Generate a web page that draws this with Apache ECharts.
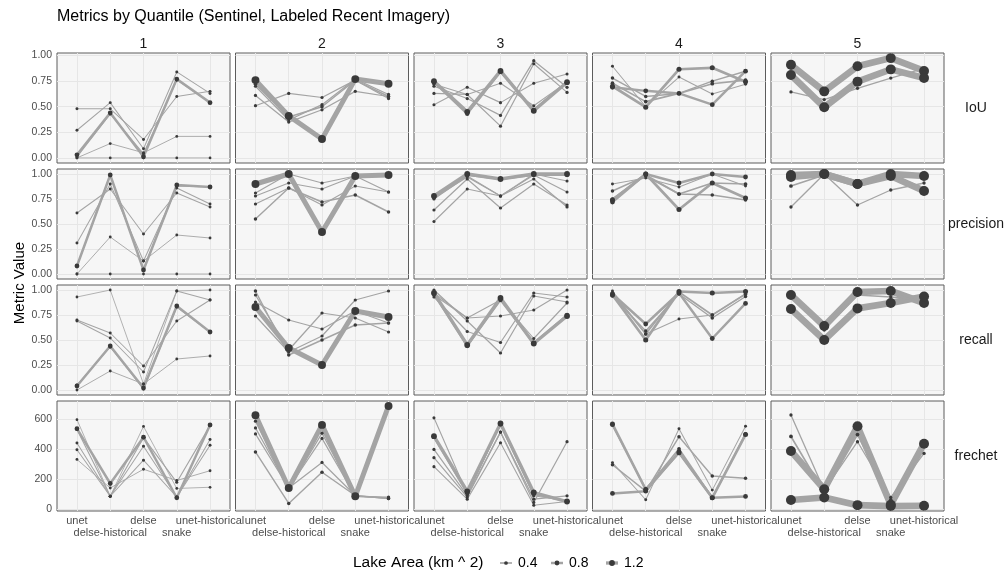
<!DOCTYPE html>
<html><head><meta charset="utf-8">
<script src="https://cdn.jsdelivr.net/npm/echarts@6/dist/echarts.min.js"></script>
<style>html,body{margin:0;padding:0;background:#fff}#c{width:1008px;height:576px}</style>
</head><body><div id="c"></div>
<script>
// ---------- categories / ticks ----------
const methods = ['unet', 'delse-historical', 'delse', 'snake', 'unet-historical'];
const quantiles = ['1', '2', '3', '4', '5'];
const metrics = ['IoU', 'precision', 'recall', 'frechet'];
const ratioTicks = [0, 0.25, 0.5, 0.75, 1];
const frechetTicks = [0, 200, 400, 600];
const legendBreaks = [0.4, 0.8, 1.2];

// ---------- quantile 1 ----------
const q1_area = [0.02, 0.05, 0.1, 0.1, 0.8, 0.15];
const q1_iou = [[0,0,0,0,0],[0.00,0.14,0.05,0.21,0.21],[0.48,0.48,0.18,0.60,0.65],[0.27,0.54,0.09,0.84,0.63],[0.03,0.44,0.01,0.77,0.54],[0.01,0.43,0.04,0.76,0.54]];
const q1_precision = [[0,0,0,0,0],[0,0.37,0.13,0.39,0.36],[0.61,0.85,0.40,0.81,0.67],[0.31,0.90,0.13,0.86,0.70],[0.08,0.99,0.04,0.89,0.87],[0.08,0.99,0.05,0.88,0.87]];
const q1_recall = [[0.93,1.00,0.06,0.99,1.00],[0.00,0.19,0.06,0.31,0.34],[0.70,0.57,0.24,0.69,0.90],[0.69,0.52,0.18,0.99,0.90],[0.04,0.44,0.02,0.84,0.58],[0.05,0.43,0.01,0.83,0.58]];
const q1_frechet = [[595,85,550,137,145],[330,140,265,190,255],[440,85,418,80,463],[395,85,325,80,425],[535,170,478,75,560],[530,85,475,178,555]];

// ---------- quantile 2 ----------
const q2_area = [2.0, 0.2, 0.2, 0.2, 0.3];
const q2_iou = [[0.76,0.41,0.185,0.77,0.725],[0.70,0.37,0.52,0.77,0.62],[0.61,0.35,0.47,0.65,0.60],[0.51,0.63,0.59,0.76,0.58],[0.72,0.40,0.50,0.76,0.60]];
const q2_precision = [[0.90,1.00,0.42,0.98,0.99],[0.81,1.00,0.91,0.98,0.82],[0.78,0.91,0.85,0.98,0.98],[0.70,0.86,0.69,0.88,0.82],[0.55,0.86,0.72,0.79,0.62]];
const q2_recall = [[0.83,0.42,0.25,0.79,0.73],[0.88,0.70,0.61,0.79,0.67],[0.95,0.40,0.77,0.72,0.58],[0.74,0.38,0.54,0.90,0.99],[0.99,0.35,0.50,0.65,0.67]];
const q2_frechet = [[625,140,560,85,686],[585,135,505,85,80],[540,140,470,85,75],[500,140,310,90,70],[380,37,245,90,70]];

// ---------- quantile 3 ----------
const q3_area = [1.2, 0.6, 0.2, 0.2, 0.15, 0.15];
const q3_iou = [[0.75,0.45,0.85,0.46,0.74],[0.74,0.43,0.84,0.47,0.74],[0.70,0.58,0.415,0.95,0.69],[0.63,0.62,0.31,0.92,0.64],[0.52,0.69,0.54,0.73,0.82],[0.72,0.62,0.73,0.51,0.74]];
const q3_precision = [[0.78,1.0,0.95,1.0,1.0],[0.77,0.99,0.95,0.99,0.99],[0.75,0.98,0.78,0.95,0.67],[0.64,0.95,0.66,0.90,0.69],[0.525,0.85,0.78,0.99,0.82],[0.76,0.97,0.78,1.0,0.93]];
const q3_recall = [[0.97,0.45,0.92,0.465,0.74],[0.96,0.44,0.90,0.47,0.75],[0.93,0.585,0.475,0.97,0.93],[1.0,0.69,0.37,0.94,0.88],[0.97,0.72,0.74,0.80,1.0],[0.95,0.72,0.90,0.515,0.87]];
const q3_frechet = [[485,118,570,110,50],[480,105,565,100,52],[397,90,512,66,88],[342,80,512,44,448],[282,66,441,25,50],[607,100,560,88,55]];

// ---------- quantile 4 ----------
const q4_area = [0.9, 0.8, 0.1, 0.3, 0.4];
const q4_iou = [[0.70,0.495,0.866,0.88,0.745],[0.69,0.655,0.63,0.52,0.847],[0.895,0.50,0.79,0.625,0.72],[0.78,0.60,0.63,0.75,0.847],[0.73,0.55,0.63,0.725,0.76]];
const q4_precision = [[0.74,1.0,0.645,0.91,0.76],[0.72,1.0,0.91,1.0,0.97],[0.90,0.96,0.87,1.0,0.88],[0.83,0.98,0.80,0.79,0.74],[0.75,0.99,0.80,0.91,0.90]];
const q4_recall = [[0.95,0.50,0.985,0.97,0.985],[0.96,0.66,0.97,0.515,0.866],[0.99,0.56,0.71,0.75,0.96],[0.94,0.59,0.96,0.72,0.935],[0.97,0.56,0.98,0.75,0.96]];
const q4_frechet = [[565,130,375,75,496],[104,119,380,75,84],[309,62,534,126,551],[295,119,481,220,205],[560,132,401,75,500]];

// ---------- quantile 5 ----------
const q5_area = [2.8, 2.8, 0.25, 0.4];
const q5_iou = [[0.91,0.65,0.895,0.975,0.85],[0.81,0.495,0.745,0.865,0.78],[0.645,0.57,0.68,0.78,0.875],[0.88,0.66,0.88,0.96,0.84]];
const q5_precision = [[0.99,1.0,0.90,1.0,0.98],[0.97,1.0,0.90,0.98,0.83],[0.67,1.0,0.69,0.84,0.91],[0.88,0.99,0.89,0.99,0.86]];
const q5_recall = [[0.95,0.64,0.98,0.99,0.87],[0.81,0.50,0.816,0.87,0.935],[0.95,0.60,0.95,0.93,0.90],[0.97,0.64,0.97,0.98,0.85]];
const q5_frechet = [[386,132,551,29,435],[60,77,26,20,22],[626,125,448,77,370],[483,110,496,60,430]];

// ---------- assemble ----------
const table = {
  '1': {area: q1_area, IoU: q1_iou, precision: q1_precision, recall: q1_recall, frechet: q1_frechet},
  '2': {area: q2_area, IoU: q2_iou, precision: q2_precision, recall: q2_recall, frechet: q2_frechet},
  '3': {area: q3_area, IoU: q3_iou, precision: q3_precision, recall: q3_recall, frechet: q3_frechet},
  '4': {area: q4_area, IoU: q4_iou, precision: q4_precision, recall: q4_recall, frechet: q4_frechet},
  '5': {area: q5_area, IoU: q5_iou, precision: q5_precision, recall: q5_recall, frechet: q5_frechet}
};

const FONT = "'Liberation Sans', Arial, Helvetica, sans-serif";
const LINE_COLOR = '#a4a4a4';
const POINT_COLOR = '#3a3a3a';
const pointSize = a => 2.7 + 2.6 * a;
const lineWidth = a => 0.8 + 2.1 * a;

const colLeft = [57, 235.5, 414, 592.5, 771];
const rowTop = [53, 169, 285, 401];
const PW = 173, PH = 110;
const yRange = {
  IoU: [-0.05, 1.025],
  precision: [-0.05, 1.05],
  recall: [-0.05, 1.05],
  frechet: [-13, 719]
};

const grids = [], xAxes = [], yAxes = [], series = [], extraX = [];
const xLabelStyle = {color: '#4d4d4d', fontSize: 11, fontFamily: FONT,
  hideOverlap: false, showMinLabel: true, showMaxLabel: true,
  formatter: v => methods[Math.round(v) - 1]};

metrics.forEach((m, r) => {
  quantiles.forEach((q, c) => {
    const idx = r * 5 + c;
    grids.push({
      left: colLeft[c], top: rowTop[r], width: PW, height: PH,
      show: true, backgroundColor: '#f6f6f6', borderColor: '#5c5c5c', borderWidth: 1,
      containLabel: false
    });
    xAxes.push({
      type: 'value', gridIndex: idx, min: 0.4, max: 5.6,
      axisLine: {show: false},
      axisTick: {show: false, customValues: [1, 2, 3, 4, 5]},
      splitLine: {show: true, lineStyle: {color: '#e6e6e6', width: 1}},
      axisLabel: Object.assign({show: r === 3, customValues: [1, 3, 5], margin: 4}, xLabelStyle)
    });
    if (r === 3) {
      // second (dodged) row of category labels
      extraX.push({
        type: 'value', gridIndex: idx, min: 0.4, max: 5.6, position: 'bottom',
        axisLine: {show: false}, axisTick: {show: false, customValues: [2, 4]},
        splitLine: {show: false},
        axisLabel: Object.assign({show: true, customValues: [2, 4], margin: 16.5}, xLabelStyle)
      });
    }
    const ticks = m === 'frechet' ? frechetTicks : ratioTicks;
    yAxes.push({
      type: 'value', gridIndex: idx, min: yRange[m][0], max: yRange[m][1],
      axisLine: {show: false},
      axisTick: {show: false, customValues: ticks},
      splitLine: {show: true, lineStyle: {color: '#e6e6e6', width: 1}},
      axisLabel: {
        show: c === 0, customValues: ticks, color: '#4d4d4d', fontSize: 10.5, fontFamily: FONT, margin: 5,
        formatter: v => m === 'frechet' ? String(v) : v.toFixed(2)
      }
    });
    const areas = table[q].area;
    const vals = table[q][m];
    const pts = [];
    vals.forEach((row, l) => {
      series.push({
        type: 'line', xAxisIndex: idx, yAxisIndex: idx, z: 2, silent: true,
        showSymbol: false, symbol: 'none',
        lineStyle: {color: LINE_COLOR, width: lineWidth(areas[l]), cap: 'round', join: 'round'},
        data: row.map((v, i) => [i + 1, v])
      });
      row.forEach((v, i) => pts.push([i + 1, v, areas[l]]));
    });
    series.push({
      type: 'scatter', xAxisIndex: idx, yAxisIndex: idx, z: 3, silent: true,
      symbol: 'circle', symbolSize: d => pointSize(d[2]),
      itemStyle: {color: POINT_COLOR, opacity: 1},
      data: pts
    });
  });
});
extraX.forEach(a => xAxes.push(a));

// ---------- text & legend ----------
const graphic = [];
quantiles.forEach((q, c) => graphic.push({
  type: 'text', x: colLeft[c] + PW / 2, y: 44,
  style: {text: q, fill: '#1a1a1a', font: '14px ' + FONT, textAlign: 'center', textVerticalAlign: 'middle'}
}));
metrics.forEach((m, r) => graphic.push({
  type: 'text', x: 976, y: rowTop[r] + PH / 2,
  style: {text: m, fill: '#1a1a1a', font: '14px ' + FONT, textAlign: 'center', textVerticalAlign: 'middle'}
}));
graphic.push({
  type: 'text', x: 20, y: 283, rotation: Math.PI / 2,
  style: {text: 'Metric Value', fill: '#000', font: '15px ' + FONT, textAlign: 'center', textVerticalAlign: 'middle'}
});
graphic.push({
  type: 'text', x: 353, y: 563,
  style: {text: 'Lake Area (km ^ 2)', fill: '#000', font: '15.5px ' + FONT, textAlign: 'left', textVerticalAlign: 'middle'}
});
const keyX = [506, 557, 612];
legendBreaks.forEach((b, k) => {
  graphic.push({type: 'line', shape: {x1: keyX[k] - 6, y1: 563, x2: keyX[k] + 6, y2: 563},
    style: {stroke: LINE_COLOR, lineWidth: lineWidth(b)}});
  graphic.push({type: 'circle', shape: {cx: keyX[k], cy: 563, r: pointSize(b) / 2}, style: {fill: POINT_COLOR}});
  graphic.push({type: 'text', x: keyX[k] + 12, y: 563,
    style: {text: String(b), fill: '#000', font: '14px ' + FONT, textAlign: 'left', textVerticalAlign: 'middle'}});
});

const chart = echarts.init(document.getElementById('c'), null, {renderer: 'canvas'});
chart.setOption({
  animation: false,
  backgroundColor: '#ffffff',
  title: {text: 'Metrics by Quantile (Sentinel, Labeled Recent Imagery)', left: 57, top: 9, padding: 0,
    textStyle: {fontSize: 16, fontWeight: 'normal', color: '#000', fontFamily: FONT}},
  grid: grids, xAxis: xAxes, yAxis: yAxes, series: series, graphic: graphic
});
</script></body></html>
